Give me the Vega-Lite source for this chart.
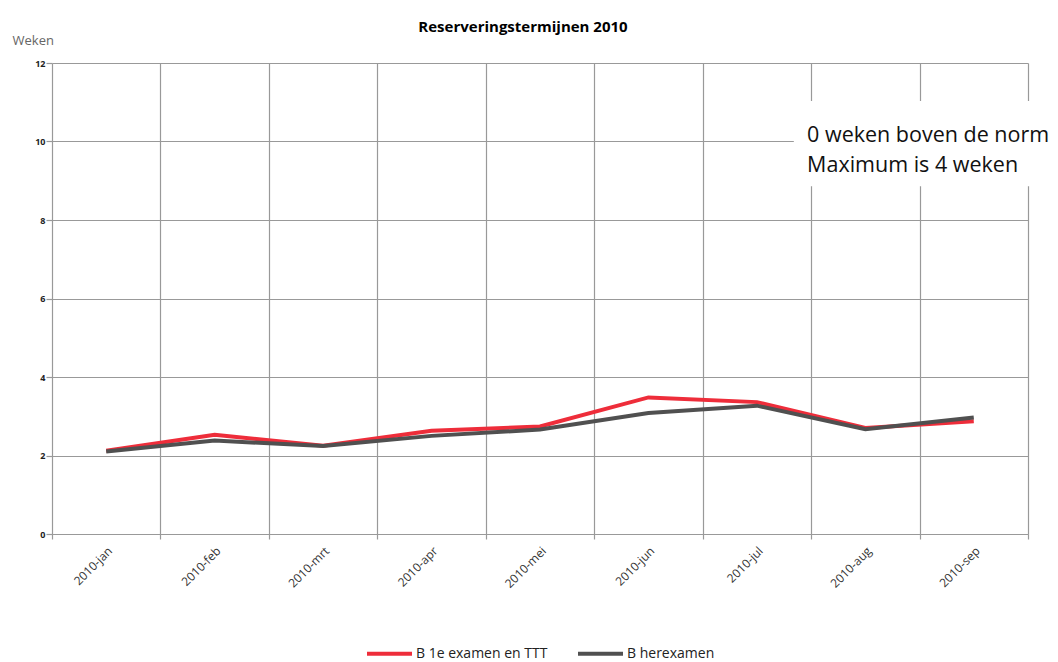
{
  "$schema": "https://vega.github.io/schema/vega-lite/v6.json",
  "width": 976,
  "height": 471,
  "autosize": {"type": "none"},
  "padding": {"left": 52, "top": 63, "right": 30, "bottom": 128},
  "background": "white",
  "config": {"view": {"stroke": null}, "font": "Open Sans", "legend": {"layout": {"bottom": {"anchor": "middle"}}}},
  "title": {"text": "Reserveringstermijnen 2010", "fontSize": 15, "fontWeight": "bold", "color": "#000", "offset": -1, "dx": -17, "font": "Open Sans"},
  "layer": [
    {
      "data": {"values": [
        {"month": "2010-jan", "series": "B 1e examen en TTT", "value": 2.12},
        {"month": "2010-feb", "series": "B 1e examen en TTT", "value": 2.53},
        {"month": "2010-mrt", "series": "B 1e examen en TTT", "value": 2.25},
        {"month": "2010-apr", "series": "B 1e examen en TTT", "value": 2.63},
        {"month": "2010-mei", "series": "B 1e examen en TTT", "value": 2.74},
        {"month": "2010-jun", "series": "B 1e examen en TTT", "value": 3.48},
        {"month": "2010-jul", "series": "B 1e examen en TTT", "value": 3.36},
        {"month": "2010-aug", "series": "B 1e examen en TTT", "value": 2.70},
        {"month": "2010-sep", "series": "B 1e examen en TTT", "value": 2.87},
        {"month": "2010-jan", "series": "B herexamen", "value": 2.10},
        {"month": "2010-feb", "series": "B herexamen", "value": 2.38},
        {"month": "2010-mrt", "series": "B herexamen", "value": 2.24},
        {"month": "2010-apr", "series": "B herexamen", "value": 2.50},
        {"month": "2010-mei", "series": "B herexamen", "value": 2.66},
        {"month": "2010-jun", "series": "B herexamen", "value": 3.08},
        {"month": "2010-jul", "series": "B herexamen", "value": 3.27},
        {"month": "2010-aug", "series": "B herexamen", "value": 2.67},
        {"month": "2010-sep", "series": "B herexamen", "value": 2.97}
      ]},
      "mark": {"type": "line", "strokeWidth": 4},
      "encoding": {
        "x": {
          "field": "month", "type": "nominal", "bandPosition": 0.5,
          "scale": {"type": "band", "paddingInner": 0, "paddingOuter": 0,
            "domain": ["2010-jan", "2010-feb", "2010-mrt", "2010-apr", "2010-mei", "2010-jun", "2010-jul", "2010-aug", "2010-sep"]},
          "axis": {"title": null, "labelAngle": -45, "labelFontSize": 12, "labelColor": "#333", "tickBand": "extent", "tickSize": 5, "grid": true, "gridColor": "#999", "gridWidth": 1.2, "domainColor": "#999", "domainWidth": 1.2, "tickColor": "#999", "tickWidth": 1.2, "labelPadding": 6}
        },
        "y": {
          "field": "value", "type": "quantitative",
          "scale": {"domain": [0, 12]},
          "axis": {"values": [0, 2, 4, 6, 8, 10, 12], "grid": true, "gridColor": "#999", "gridWidth": 1.2, "domain": false, "tickSize": 6, "tickColor": "#999", "tickWidth": 1.2, "labelFontSize": 9, "labelFontWeight": "bold", "labelColor": "#222", "labelPadding": 1,
            "title": "Weken", "titleAngle": 0, "titleAlign": "left", "titleBaseline": "bottom", "titleX": -40, "titleY": -16, "titleFontSize": 13, "titleFontWeight": "normal", "titleColor": "#666"}
        },
        "color": {
          "field": "series", "type": "nominal",
          "scale": {"domain": ["B 1e examen en TTT", "B herexamen"], "range": ["#ee2d3a", "#505050"]},
          "legend": {"orient": "bottom", "direction": "horizontal", "title": null, "symbolType": "stroke", "symbolSize": 2025, "symbolStrokeWidth": 4, "labelFontSize": 14, "labelColor": "#222", "offset": 39, "columnPadding": 22, "labelOffset": 2}
        }
      }
    },
    {
      "data": {"values": [{"label": "box"}]},
      "mark": {"type": "rect", "color": "white", "width": 263, "xOffset": 60},
      "encoding": {
        "x": {"datum": "2010-aug"},
        "y": {"datum": 11.03},
        "y2": {"datum": 8.86}
      }
    },
    {
      "data": {"values": [{"line1": "0 weken boven de norm", "line2": "Maximum is 4 weken"}]},
      "mark": {"type": "text", "align": "left", "baseline": "alphabetic", "fontSize": 21.5, "lineHeight": 30, "color": "#111", "dx": -4, "font": "Open Sans"},
      "encoding": {
        "x": {"datum": "2010-aug", "bandPosition": 0},
        "y": {"datum": 10.0},
        "text": {"value": ["0 weken boven de norm", "Maximum is 4 weken"]}
      }
    }
  ]
}
